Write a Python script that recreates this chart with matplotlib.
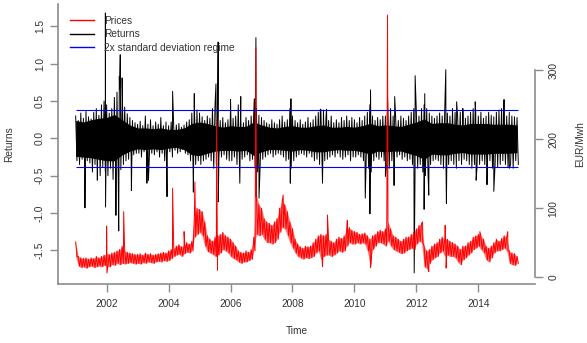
import numpy as np
import matplotlib.pyplot as plt
from matplotlib.lines import Line2D

plt.rcParams['font.family'] = ['Liberation Sans', 'DejaVu Sans']

# monthly grid Jan 2001 .. Apr 2015, high / low of each month
start_year = 2001

ret_hi = [
    0.30, 0.24, 0.34, 0.27, 0.36, 0.29, 0.26, 0.35, 0.40, 0.31, 0.45, 0.50,
    0.45, 0.34, 0.40, 0.55, 0.62, 0.66, 0.48, 0.42, 0.33, 0.28, 0.24, 0.21,
    0.19, 0.23, 0.17, 0.30, 0.19, 0.25, 0.17, 0.22, 0.19, 0.28, 0.17, 0.22,
    0.17, 0.22, 0.15, 0.18, 0.20, 0.15, 0.18, 0.22, 0.25, 0.34, 0.44, 0.38,
    0.34, 0.29, 0.24, 0.30, 0.27, 0.40, 0.45, 0.29, 0.24, 0.28, 0.21, 0.25,
    0.40, 0.27, 0.30, 0.45, 0.24, 0.21, 0.28, 0.24, 0.30, 0.35, 0.40, 0.31,
    0.28, 0.24, 0.21, 0.19, 0.25, 0.21, 0.19, 0.25, 0.30, 0.22, 0.25, 0.40,
    0.30, 0.24, 0.21, 0.25, 0.19, 0.22, 0.28, 0.21, 0.25, 0.30, 0.35, 0.39,
    0.38, 0.30, 0.24, 0.30, 0.21, 0.25, 0.21, 0.28, 0.24, 0.30, 0.24, 0.28,
    0.25, 0.21, 0.28, 0.24, 0.30, 0.35, 0.45, 0.30, 0.24, 0.28, 0.25, 0.30,
    0.30, 0.35, 0.40, 0.30, 0.27, 0.24, 0.30, 0.27, 0.24, 0.30, 0.35, 0.40,
    0.35, 0.30, 0.40, 0.45, 0.40, 0.34, 0.30, 0.27, 0.30, 0.34, 0.30, 0.40,
    0.34, 0.30, 0.40, 0.35, 0.29, 0.35, 0.30, 0.27, 0.30, 0.35, 0.40, 0.34,
    0.30, 0.35, 0.27, 0.30, 0.35, 0.31, 0.29, 0.35, 0.38, 0.40, 0.34, 0.30,
    0.35, 0.30, 0.29, 0.28,
]
ret_lo = [
    -0.30, -0.35, -0.28, -0.40, -0.30, -0.33, -0.45, -0.35, -0.30, -0.50, -0.38, -0.45,
    -0.50, -0.40, -0.55, -0.45, -0.50, -0.42, -0.35, -0.30, -0.28, -0.25, -0.22, -0.20,
    -0.20, -0.25, -0.18, -0.28, -0.30, -0.20, -0.22, -0.18, -0.25, -0.20, -0.30, -0.22,
    -0.18, -0.25, -0.16, -0.20, -0.18, -0.15, -0.20, -0.22, -0.30, -0.40, -0.35, -0.30,
    -0.35, -0.30, -0.28, -0.25, -0.30, -0.40, -0.35, -0.28, -0.25, -0.22, -0.28, -0.30,
    -0.30, -0.25, -0.35, -0.40, -0.28, -0.25, -0.22, -0.30, -0.28, -0.40, -0.45, -0.35,
    -0.28, -0.25, -0.22, -0.20, -0.25, -0.22, -0.20, -0.22, -0.25, -0.30, -0.28, -0.40,
    -0.30, -0.25, -0.22, -0.20, -0.22, -0.25, -0.20, -0.25, -0.30, -0.28, -0.35, -0.40,
    -0.30, -0.28, -0.25, -0.22, -0.25, -0.20, -0.25, -0.28, -0.25, -0.22, -0.30, -0.25,
    -0.25, -0.22, -0.25, -0.30, -0.35, -0.40, -0.45, -0.30, -0.25, -0.28, -0.25, -0.30,
    -0.35, -0.40, -0.30, -0.28, -0.25, -0.22, -0.28, -0.25, -0.30, -0.28, -0.35, -0.40,
    -0.40, -0.35, -0.45, -0.50, -0.45, -0.35, -0.30, -0.28, -0.30, -0.35, -0.40, -0.45,
    -0.35, -0.30, -0.35, -0.40, -0.30, -0.35, -0.28, -0.30, -0.35, -0.40, -0.35, -0.38,
    -0.35, -0.30, -0.35, -0.38, -0.30, -0.40, -0.35, -0.38, -0.35, -0.30, -0.35, -0.38,
    -0.35, -0.40, -0.30, -0.35,
]
# quarterly solid core of the returns band, 2001.0 .. 2015.25
ret_core_hi = [
    0.24, 0.22, 0.25, 0.27, 0.28, 0.32, 0.25, 0.18, 0.14, 0.14, 0.13, 0.14,
    0.12, 0.12, 0.14, 0.20, 0.22, 0.20, 0.17, 0.15, 0.17, 0.16, 0.16, 0.22,
    0.18, 0.15, 0.14, 0.16, 0.17, 0.15, 0.15, 0.17, 0.18, 0.15, 0.15, 0.16,
    0.15, 0.17, 0.20, 0.17, 0.18, 0.17, 0.16, 0.19, 0.22, 0.26, 0.20, 0.21,
    0.21, 0.19, 0.18, 0.20, 0.20, 0.20, 0.19, 0.19, 0.19, 0.18,
]
ret_core_lo = [
    -0.24, -0.25, -0.26, -0.28, -0.30, -0.30, -0.22, -0.17, -0.14, -0.15, -0.14, -0.15,
    -0.13, -0.12, -0.15, -0.22, -0.23, -0.20, -0.17, -0.16, -0.16, -0.17, -0.16, -0.23,
    -0.18, -0.15, -0.15, -0.16, -0.17, -0.15, -0.16, -0.18, -0.18, -0.16, -0.15, -0.16,
    -0.16, -0.18, -0.21, -0.17, -0.18, -0.17, -0.17, -0.20, -0.23, -0.28, -0.21, -0.22,
    -0.22, -0.20, -0.19, -0.21, -0.21, -0.21, -0.20, -0.20, -0.20, -0.19,
]
# single-day spikes (time, return)
ret_spikes = [
    (2001.30, -0.93), (2001.70, -0.56), (2001.96, 1.68), (2001.965, -0.92),
    (2002.30, -1.03), (2002.39, -1.24), (2002.41, 0.83), (2002.44, 1.12),
    (2002.50, 0.81), (2002.80, -0.70), (2003.30, -0.60), (2003.35, -0.56),
    (2003.95, -0.78), (2004.13, 0.63), (2004.80, -0.72), (2004.83, 0.60),
    (2005.53, 0.73), (2005.60, 1.29), (2005.605, -0.85), (2006.00, 0.52),
    (2006.30, -0.60), (2006.33, 0.56), (2006.77, 0.53), (2006.82, 1.35),
    (2006.825, -0.78), (2006.92, -0.80), (2007.93, -0.60), (2007.95, 0.53),
    (2008.90, 0.39), (2008.97, -0.60), (2009.10, 0.39), (2010.35, -0.80),
    (2010.50, -1.01), (2010.52, 0.65), (2011.00, -0.51), (2011.07, 0.55),
    (2011.28, -0.63), (2011.30, 0.56), (2011.93, -1.80), (2011.96, 0.84),
    (2012.25, -0.95), (2012.27, 0.60), (2012.40, -0.76), (2012.95, 0.92),
    (2012.97, -0.87), (2013.30, 0.49), (2013.50, 0.40), (2013.90, 0.49),
    (2013.93, -0.56), (2014.28, -0.62), (2014.50, -0.71), (2014.83, 0.52),
    (2015.00, -0.40),
]

price_hi = [
    51, 30, 28, 27, 28, 26, 28, 27, 30, 28, 30, 32,
    34, 33, 35, 36, 38, 40, 45, 38, 36, 35, 34, 33,
    33, 34, 32, 35, 33, 34, 32, 33, 34, 35, 36, 35,
    38, 40, 42, 45, 47, 44, 46, 50, 48, 52, 90, 100,
    98, 95, 80, 60, 55, 52, 58, 60, 62, 65, 60, 58,
    55, 50, 45, 38, 36, 35, 38, 36, 40, 58, 120, 105,
    100, 85, 80, 78, 75, 80, 85, 100, 110, 105, 95, 80,
    70, 55, 48, 44, 42, 45, 44, 45, 50, 55, 60, 62,
    60, 62, 55, 52, 50, 55, 58, 56, 60, 70, 72, 68,
    66, 65, 62, 63, 64, 60, 55, 60, 62, 66, 68, 66,
    70, 80, 70, 60, 58, 55, 52, 55, 58, 58, 62, 65,
    70, 75, 78, 45, 38, 40, 45, 48, 50, 55, 58, 55,
    55, 52, 50, 48, 45, 40, 45, 45, 50, 52, 58, 60,
    62, 60, 55, 45, 42, 45, 50, 55, 52, 56, 60, 58,
    38, 35, 34, 30,
]
price_lo = [
    30, 16, 14, 15, 13, 15, 16, 14, 15, 16, 15, 17,
    16, 15, 18, 17, 20, 18, 20, 19, 20, 21, 20, 19,
    20, 19, 21, 20, 22, 21, 20, 22, 23, 22, 24, 23,
    24, 27, 30, 32, 33, 30, 34, 36, 35, 38, 58, 62,
    65, 60, 45, 37, 35, 33, 30, 32, 35, 40, 38, 35,
    30, 27, 25, 22, 20, 22, 22, 24, 26, 38, 62, 60,
    62, 55, 50, 50, 48, 50, 55, 65, 72, 70, 60, 50,
    42, 35, 30, 28, 26, 28, 27, 28, 30, 35, 38, 25,
    30, 32, 32, 30, 32, 35, 38, 36, 38, 45, 50, 48,
    48, 50, 48, 50, 48, 38, 20, 40, 45, 50, 50, 48,
    45, 52, 45, 40, 38, 36, 34, 35, 38, 40, 42, 40,
    48, 52, 50, 15, 12, 20, 25, 28, 30, 35, 38, 30,
    32, 30, 30, 28, 22, 18, 25, 28, 32, 35, 40, 42,
    45, 40, 35, 25, 22, 28, 35, 38, 38, 40, 42, 38,
    20, 18, 17, 20,
]
price_spikes = [
    (2002.00, 74), (2002.01, 6), (2002.55, 95), (2004.13, 129), (2004.50, 66),
    (2004.85, 138), (2005.55, 227), (2005.58, 10), (2006.82, 333), (2007.70, 119),
    (2008.97, 15), (2009.13, 90), (2009.77, 82), (2010.52, 14), (2011.07, 380),
    (2012.20, 80), (2012.40, 8), (2012.93, 75), (2012.96, 13), (2014.05, 66),
    (2014.95, 66),
]

regime = [0.378, -0.378]

year_ticks = [2002, 2004, 2006, 2008, 2010, 2012, 2014]
ret_ticks = [-1.5, -1.0, -0.5, 0.0, 0.5, 1.0, 1.5]
ret_labels = ['-1.5', '-1.0', '-0.5', '0.0', '0.5', '1.0', '1.5']
price_ticks = [0, 100, 200, 300]


def build_series(hi, lo, spikes):
    t0 = start_year + np.arange(len(hi)) / 12
    st = np.array([s[0] for s in spikes])
    sv = np.array([s[1] for s in spikes])
    t = np.concatenate([t0, t0 + 1 / 24, st])
    v = np.concatenate([hi, lo, sv])
    order = np.argsort(t, kind='stable')
    return t[order], v[order]


rt, rv = build_series(ret_hi, ret_lo, ret_spikes)
pt, pv = build_series(price_hi, price_lo, price_spikes)
t_month = start_year + np.arange(len(price_hi)) / 12
t_quarter = start_year + np.arange(len(ret_core_hi)) / 4

axis_col = '#8c8c8c'
text_col = '#333333'
fs = 7.3

fig = plt.figure(figsize=(5.87, 3.43), dpi=100)
ax = fig.add_axes([58 / 587, 59 / 343, 477 / 587, 280 / 343])
ax2 = ax.twinx()
ax3 = ax.twinx()

ax.fill_between(t_quarter, ret_core_lo, ret_core_hi, color='black', lw=0)
ax.plot(rt, rv, color='black', lw=0.7)
ax2.fill_between(t_month, price_lo, price_hi, color='red', alpha=0.55, lw=0)
ax2.plot(pt, pv, color='red', lw=0.7)
ax3.hlines(regime, rt.min(), rt.max(), color='blue', lw=0.8)

ax.set_xlim(2000.43, 2015.83)
ax.set_ylim(-1.95, 1.8)
ax2.set_ylim(-10, 396)
ax3.set_ylim(-1.95, 1.8)
ax3.axis('off')

for s in ['top', 'right']:
    ax.spines[s].set_visible(False)
for s in ['left', 'bottom']:
    ax.spines[s].set_color(axis_col)
    ax.spines[s].set_linewidth(1.2)
for s in ['top', 'left', 'bottom']:
    ax2.spines[s].set_visible(False)
ax2.spines['right'].set_bounds(0, 300)
ax2.spines['right'].set_color(axis_col)
ax2.spines['right'].set_linewidth(1.2)

ax.set_xticks(year_ticks)
ax.set_xticklabels([str(y) for y in year_ticks])
ax.set_yticks(ret_ticks)
ax.set_yticklabels(ret_labels, rotation=90, va='center')
ax2.set_yticks(price_ticks)
ax2.set_yticklabels([str(p) for p in price_ticks], rotation=90, va='center')

for a in (ax, ax2):
    a.tick_params(direction='out', length=5.5, width=1, color=axis_col,
                  labelsize=fs, labelcolor=text_col, pad=4)
ax.tick_params(axis='x', pad=5)

ax.set_xlabel('Time', fontsize=fs, color=text_col)
ax.xaxis.set_label_coords(0.5, -0.15)
ax.set_ylabel('Returns', fontsize=fs, color=text_col)
ax.yaxis.set_label_coords(-0.092, 0.5)
ax2.set_ylabel('EUR/Mwh', fontsize=fs, color=text_col)
ax2.yaxis.set_label_coords(1.085, 0.5)

handles = [Line2D([], [], color='red', lw=1.0),
           Line2D([], [], color='black', lw=1.0),
           Line2D([], [], color='blue', lw=1.0)]
ax3.legend(handles, ['Prices', 'Returns', '2x standard deviation regime'],
           loc='upper left', bbox_to_anchor=(0.025, 0.958), frameon=False,
           fontsize=fs, handlelength=2.4, handletextpad=1.0, labelspacing=0.35,
           borderpad=0, borderaxespad=0, labelcolor=text_col)

fig.savefig('out.png', dpi=100)
